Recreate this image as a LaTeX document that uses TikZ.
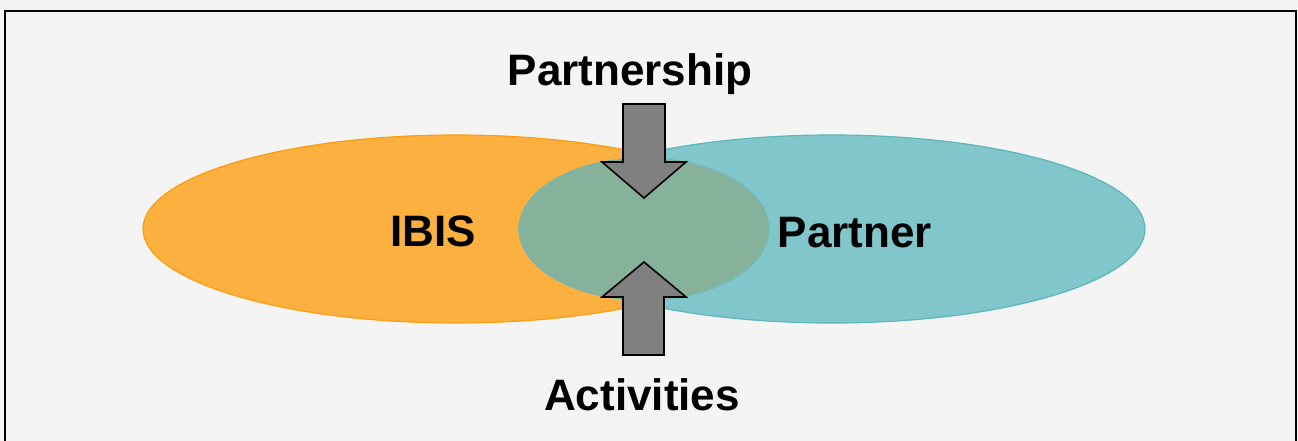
\documentclass[tikz,border=0pt]{standalone}
\usepackage{fontspec}
\setmainfont{Liberation Sans}
\usetikzlibrary{shapes.geometric}
\definecolor{bgc}{HTML}{F4F4F4}
\definecolor{orfill}{HTML}{FBB040}
\definecolor{ordraw}{HTML}{FA9F0F}
\definecolor{tlfill}{HTML}{80C6CB}
\definecolor{tldraw}{HTML}{5CB7BD}
\definecolor{midfill}{HTML}{86B29B}
\definecolor{middraw}{HTML}{74B7B3}
\definecolor{arrfill}{HTML}{808080}
\tikzset{
  blob/.style={ellipse, line width=1.2pt, inner sep=0pt},
  lbl/.style={font=\fontsize{44}{50}\selectfont\bfseries, inner sep=0pt, anchor=base},
  bigarrow/.style={fill=arrfill, draw=black, line width=1.6pt, line join=miter}
}
\begin{document}
\begin{tikzpicture}[x=1pt,y=-1pt]
\useasboundingbox (0,0) rectangle (1298,441);
\fill[bgc] (0,0) rectangle (1298,441);
\draw[black, line width=2pt] (5,460) -- (5,11) -- (1296,11) -- (1296,460);
% ellipses
\node[blob, fill=orfill, draw=ordraw, minimum width=626pt, minimum height=188pt] (ibis) at (456,229) {};
\node[blob, fill=tlfill, draw=tldraw, minimum width=626pt, minimum height=188pt] (partner) at (832,229) {};
\node[blob, fill=midfill, draw=middraw, minimum width=250pt, minimum height=142pt] (mid) at (644,229) {};
% labels
\node[lbl] (tibis) at (433,246) {IBIS};
\node[lbl] (tpartner) at (855,247) {Partner};
\node[lbl] (tpship) at (630,86) {Partnership};
\node[lbl] (tact) at (642,410) {Activities};
% arrows
\draw[bigarrow] (623,104) -- (665,104) -- (665,162) -- (686,162) -- (644,198) -- (602,162) -- (623,162) -- cycle;
\draw[bigarrow] (623,355) -- (664,355) -- (664,297) -- (686,297) -- (644,262) -- (602,297) -- (623,297) -- cycle;
\end{tikzpicture}
\end{document}
